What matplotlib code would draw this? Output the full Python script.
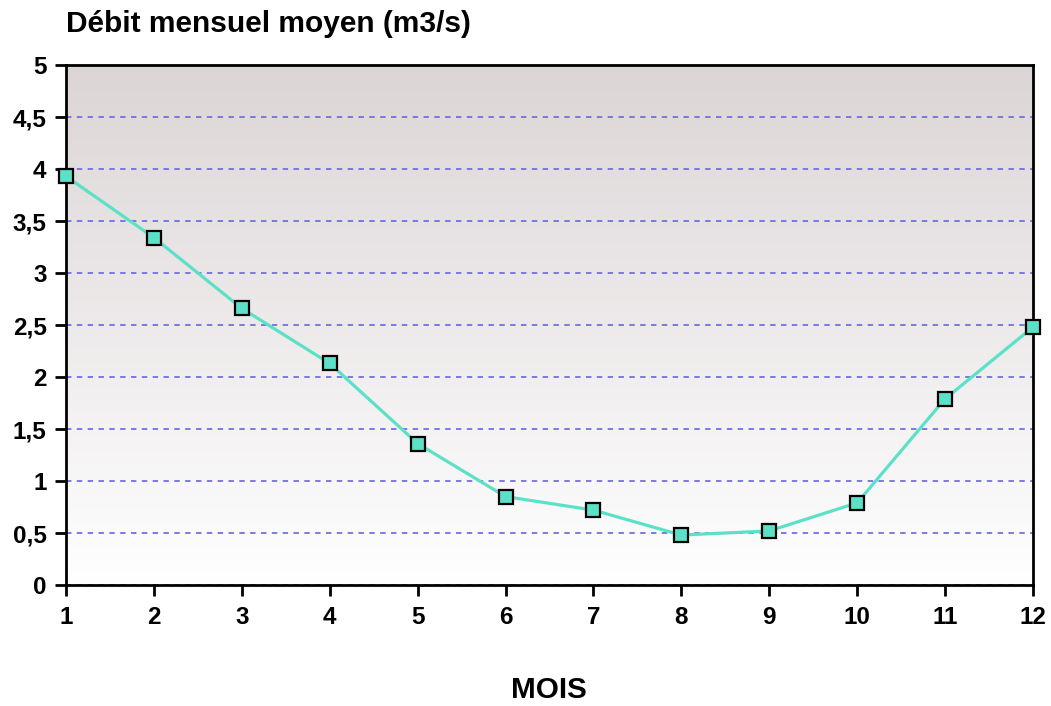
import numpy as np
import matplotlib.pyplot as plt
from matplotlib.ticker import FuncFormatter

mois = [1, 2, 3, 4, 5, 6, 7, 8, 9, 10, 11, 12]
debit = [3.93, 3.34, 2.66, 2.13, 1.36, 0.85, 0.72, 0.48, 0.52, 0.79, 1.79, 2.48]
yticks = [0, 0.5, 1, 1.5, 2, 2.5, 3, 3.5, 4, 4.5, 5]

plt.rcParams['font.family'] = ['Liberation Sans', 'DejaVu Sans']

fig = plt.figure(figsize=(10.51, 7.06), dpi=100)
ax = fig.add_axes([66 / 1051, 1 - 585 / 706, (1033 - 66) / 1051, (585 - 65) / 706])

# fond en dégradé (gris rosé en haut -> blanc en bas)
top = np.array([220, 213, 214]) / 255
bot = np.array([255, 255, 255]) / 255
t = np.linspace(0, 1, 256)[:, None]
grad = (top * (1 - t) + bot * t)[:, None, :]
ax.imshow(grad, extent=[1, 12, 0, 5], aspect='auto', origin='upper', zorder=0)

for y in yticks:
    ax.axhline(y, color='#7070e0', lw=1.3, ls=(0, (3, 3)), zorder=1)

ax.plot(mois, debit, color='#5ce1c8', lw=2.3, marker='s', markersize=10,
        markerfacecolor='#5ce1c8', markeredgecolor='black', markeredgewidth=1.6,
        clip_on=False, zorder=3)

ax.set_xlim(1, 12)
ax.set_ylim(0, 5)
ax.set_xticks(mois)
ax.set_yticks(yticks)
ax.yaxis.set_major_formatter(FuncFormatter(lambda v, p: ('%g' % v).replace('.', ',')))
ax.tick_params(direction='out', length=8, width=2, labelsize=17.5)
ax.tick_params(axis='x', pad=7)
ax.tick_params(axis='y', pad=6)
for lab in ax.get_xticklabels() + ax.get_yticklabels():
    lab.set_fontweight('bold')
for s in ax.spines.values():
    s.set_linewidth(2)
    s.set_zorder(2)

fig.text(66 / 1051, 1 - 24 / 706, 'Débit mensuel moyen (m3/s)', fontsize=21.5,
         fontweight='bold', va='center', ha='left')
fig.text(549 / 1051, 1 - 690 / 706, 'MOIS', fontsize=21.3, fontweight='bold',
         va='center', ha='center')

fig.savefig('out.png', dpi=100)
